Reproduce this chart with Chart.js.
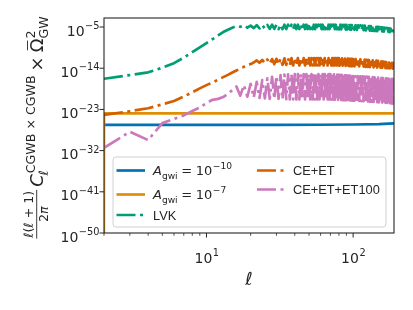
<!DOCTYPE html>
<html lang="en">
<head>
<meta charset="utf-8">
<title>CGWB x CGWB spectrum</title>
<script src="https://cdn.jsdelivr.net/npm/chart.js@4.4.0/dist/chart.umd.min.js"></script>
<style>
  body { margin: 0; background: #fff; }
  #chart { display: block; }
</style>
</head>
<body>
<canvas id="chart" width="413" height="310"></canvas>
<script>
// multipoles (ell): every ell up to 100, every other ell above
const ells = [2,3,4,5,6,7,8,9,10,11,12,13,14,15,16,17,18,19,20,21,22,23,24,25,26,27,28,29,30,31,32,33,34,35,36,37,38,39,40,
  41,42,43,44,45,46,47,48,49,50,51,52,53,54,55,56,57,58,59,60,61,62,63,64,65,66,67,68,69,70,
  71,72,73,74,75,76,77,78,79,80,81,82,83,84,85,86,87,88,89,90,91,92,93,94,95,96,97,98,99,100,
  102,104,106,108,110,112,114,116,118,120,122,124,126,128,130,132,134,136,138,140,142,144,146,148,150,
  152,154,156,158,160,162,164,166,168,170,172,174,176,178,180,182,184,186,188,190];

// log10 of l(l+1)/2pi C_l x Omega^2
const lvkLog = [-16.3,-15.5,-14.9,-13.9,-12.9,-11.7,-10.5,-9.45,-8.5,-7.65,-6.85,-6.1,-5.6,-5.15,
  -4.75,-4.95,-4.65,-5.15,-4.7,-5.25,-4.6,-5.3,-4.55,-5.35,-4.55,-5.4,-4.5,-5.4,-4.5,-5.45,-4.5,-5.45,-4.5,-5.45,-4.5,-5.45,-4.5,-5.45,-4.5,
  -5.45,-4.5,-5.45,-4.5,-5.45,-4.5,-5.45,-4.5,-5.45,-4.5,-5.45,-4.5,-5.45,-4.5,-5.45,-4.5,-5.45,-4.5,-5.45,-4.5,
  -5.45,-4.5,-5.45,-4.5,-5.45,-4.5,-5.45,-4.5,-5.45,-4.5,-5.45,-4.5,-5.45,-4.5,-5.45,-4.5,-5.45,-4.5,
  -5.5,-4.5,-5.5,-4.5,-5.5,-4.55,-5.5,-4.55,-5.5,-4.55,-5.55,-4.55,-5.55,-4.55,-5.55,-4.6,-5.55,-4.6,-5.6,-4.6,-5.6,-4.6,-5.6,-4.6,
  -5.65,-4.65,-5.65,-4.65,-5.7,-4.7,-5.7,-4.7,-5.75,-4.75,-5.75,-4.8,-5.8,-4.8,-5.8,-4.85,-5.85,-4.9,-5.85,-4.95,-5.9,-4.95,-5.9,-5.0,-5.95,
  -5.05,-5.95,-5.1,-6.0,-5.15,-6.0,-5.2,-6.05,-5.25,-6.05,-5.3,-6.1,-5.35,-6.1,-5.4,-6.15,-5.4,-6.2,-5.45,-6.25];

const ceEtLog = [-24.2,-23.4,-22.75,-21.9,-21.15,-20.2,-19.25,-18.4,-17.7,-17.1,-16.5,-15.95,-15.45,-14.95,-14.5,-14.1,-13.7,-13.35,-13.1,-12.75,
  -12.3,-12.8,-12.2,-12.9,-12.1,-13.0,-12.0,-13.1,-11.95,-13.2,-11.9,-13.25,-11.85,-13.3,-11.8,-13.35,-11.8,-13.4,-11.8,
  -13.4,-11.8,-13.4,-11.8,-13.4,-11.8,-13.4,-11.8,-13.4,-11.8,-13.4,-11.8,-13.4,-11.8,-13.4,-11.8,-13.4,-11.8,-13.4,-11.8,
  -13.4,-11.8,-13.4,-11.8,-13.4,-11.8,-13.4,-11.8,-13.4,-11.8,-13.4,-11.8,-13.4,-11.8,-13.4,-11.8,-13.4,-11.8,-13.4,-11.8,
  -13.45,-11.85,-13.45,-11.85,-13.45,-11.85,-13.5,-11.9,-13.5,-11.9,-13.5,-11.9,-13.5,-11.95,-13.55,-11.95,-13.55,-11.95,-13.55,-12.0,
  -13.6,-12.0,-13.6,-12.05,-13.6,-12.05,-13.65,-12.1,-13.65,-12.1,-13.7,-12.15,-13.7,-12.2,-13.75,-12.25,-13.75,-12.3,-13.8,-12.3,-13.8,-12.35,-13.85,-12.4,-13.85,
  -12.45,-13.9,-12.5,-13.9,-12.55,-13.95,-12.6,-13.95,-12.65,-14.0,-12.7,-14.0,-12.75,-14.05,-12.8,-14.05,-12.85,-14.1,-12.9,-14.1];

const ceEtEt100Log = [-31.4,-27.9,-29.7,-26.0,-25.1,-24.3,-23.35,-22.6,-21.6,-20.9,-20.7,-20.3,-19.6,-18.75,
  -18.0,-20.0,-17.7,-20.2,-17.4,-20.4,-17.0,-20.5,-16.6,-20.6,-16.2,-20.7,-15.9,-20.7,-15.7,-20.7,-15.5,-20.75,-15.4,-20.75,-15.35,-20.8,-15.3,-20.8,-15.3,
  -20.8,-15.3,-20.8,-15.3,-20.8,-15.3,-20.8,-15.3,-20.8,-15.3,-20.8,-15.3,-20.8,-15.3,-20.8,-15.3,-20.8,-15.3,-20.8,-15.3,
  -20.8,-15.3,-20.8,-15.3,-20.8,-15.3,-20.8,-15.3,-20.8,-15.3,
  -20.85,-15.35,-20.85,-15.35,-20.9,-15.4,-20.9,-15.4,-20.9,-15.45,-20.95,-15.45,-20.95,-15.5,-20.95,-15.5,-21.0,-15.55,-21.0,-15.55,
  -21.0,-15.6,-21.05,-15.6,-21.05,-15.65,-21.05,-15.65,-21.1,-15.7,
  -21.1,-15.75,-21.15,-15.75,-21.15,-15.8,-21.2,-15.8,-21.2,-15.85,-21.25,-15.85,-21.25,-15.9,-21.3,-15.9,-21.3,-15.95,-21.35,-16.0,-21.35,-16.0,-21.4,-16.05,-21.45,
  -16.1,-21.45,-16.1,-21.5,-16.15,-21.55,-16.2,-21.55,-16.2,-21.6,-16.25,-21.65,-16.3,-21.65,-16.3,-21.7,-16.35,-21.75,-16.4,-21.8];

const agwi10Ell = [2, 30, 60, 100, 150, 190];
const agwi10Log = [-26.4, -26.4, -26.35, -26.3, -26.2, -26.05];
const agwi7Ell = [1.995, 2, 190];
const agwi7Log = [-60, -23.85, -23.85];

// axis ticks
const yTickExp = [-50, -41, -32, -23, -14, -5];
const xMajor = [10, 100];
const xMajorExp = ['1', '2'];
const xMinor = [2,3,4,5,6,7,8,9,20,30,40,50,60,70,80,90];

const INK = '#262626';
const DASHDOT = [19, 4.5, 3, 4.5];
const LW = 2.7;

function pts(xs, logs) {
  return xs.map((x, i) => ({ x: x, y: Math.pow(10, logs[i]) }));
}

function w(ctx, text, font) { ctx.font = font; return ctx.measureText(text).width; }
function put(ctx, text, font, x, y) { ctx.font = font; ctx.fillText(text, x, y); return ctx.measureText(text).width; }

function drawPow(ctx, base, sup, x, baseline, align, size) {
  const fb = size + 'px "DejaVu Sans"';
  const fs = (size * 0.7).toFixed(1) + 'px "DejaVu Sans"';
  const wb = w(ctx, base, fb), ws = w(ctx, sup, fs);
  let x0 = x;
  if (align === 'right') x0 = x - wb - ws;
  if (align === 'center') x0 = x - (wb + ws) / 2;
  put(ctx, base, fb, x0, baseline);
  put(ctx, sup, fs, x0 + wb + 0.5, baseline - size * 0.45);
}

function drawYLabel(ctx, bx, yc) {
  const B = 18, S = 12.6;
  const rm = B + 'px "DejaVu Sans"', it = 'italic ' + B + 'px "DejaVu Sans"';
  const srm = S + 'px "DejaVu Sans"', sit = 'italic ' + S + 'px "DejaVu Sans"';
  const num = [['\u2113', sit], ['(', srm], ['\u2113', sit], [' + ', srm], ['1', srm], [')', srm]];
  const den = [['2', srm], ['\u03c0', sit]];
  const segW = s => s.reduce((t, p) => t + w(ctx, p[0], p[1]), 0);
  const numW = segW(num), denW = segW(den);
  const fracW = Math.max(numW, denW) + 2;
  const cW = w(ctx, 'C', it);
  const supTxt = 'CGWB \u00d7 CGWB';
  const cScr = Math.max(w(ctx, supTxt, srm) + 1, w(ctx, '\u2113', sit));
  const timesW = w(ctx, '\u00d7', rm) + B * 0.44;
  const omW = w(ctx, '\u03a9', rm);
  const omScr = Math.max(w(ctx, '2', srm), w(ctx, 'GW', srm));
  const gap = B * 0.17;
  const total = fracW + gap + cW + cScr + timesW + omW + omScr;

  ctx.save();
  ctx.translate(bx, yc);
  ctx.rotate(-Math.PI / 2);
  let u = -total / 2;
  // fraction
  let cu = u + (fracW - numW) / 2;
  num.forEach(p => { cu += put(ctx, p[0], p[1], cu, -10); });
  cu = u + (fracW - denW) / 2;
  den.forEach(p => { cu += put(ctx, p[0], p[1], cu, 4.8); });
  ctx.strokeStyle = INK; ctx.lineWidth = 0.9;
  ctx.beginPath(); ctx.moveTo(u, -6.3); ctx.lineTo(u + fracW, -6.3); ctx.stroke();
  u += fracW + gap;
  // C_l^{CGWB x CGWB}
  u += put(ctx, 'C', it, u, 0);
  put(ctx, supTxt, srm, u + 1, -8.5);
  put(ctx, '\u2113', sit, u - 1, 4.5);
  u += cScr;
  // times
  u += B * 0.22;
  u += put(ctx, '\u00d7', rm, u, 0);
  u += B * 0.22;
  // bar Omega ^2 _GW
  put(ctx, '\u03a9', rm, u, 0);
  ctx.beginPath(); ctx.moveTo(u + 2, -15.5); ctx.lineTo(u + omW - 2, -15.5); ctx.stroke();
  u += omW;
  put(ctx, '2', srm, u, -8.5);
  put(ctx, 'GW', srm, u, 4.5);
  ctx.restore();
}

function agwiText(ctx, x, y, exp) {
  const f = '13px "DejaVu Sans"', fi = 'italic 13px "DejaVu Sans"', fs = '9.1px "DejaVu Sans"';
  let cx = x;
  cx += put(ctx, 'A', fi, cx, y);
  cx += put(ctx, 'gwi', fs, cx, y + 3.5);
  cx += 3.6;
  cx += put(ctx, '=', f, cx, y);
  cx += 3.6;
  cx += put(ctx, '10', f, cx, y);
  put(ctx, '\u2212' + exp, fs, cx + 0.5, y - 6);
}

const frame = {
  id: 'frame',
  afterDraw(chart) {
    const ctx = chart.ctx, a = chart.chartArea;
    const xs = chart.scales.x, ys = chart.scales.y;
    ctx.save();
    ctx.fillStyle = INK;
    ctx.strokeStyle = INK;
    ctx.textAlign = 'left';
    ctx.textBaseline = 'alphabetic';

    // axes box
    ctx.lineWidth = 1.1;
    ctx.strokeRect(a.left, a.top, a.right - a.left, a.bottom - a.top);

    // y ticks and labels
    ctx.lineWidth = 1;
    yTickExp.forEach(e => {
      const py = ys.getPixelForValue(Math.pow(10, e));
      ctx.beginPath(); ctx.moveTo(a.left - 4.5, py); ctx.lineTo(a.left, py); ctx.stroke();
      drawPow(ctx, '10', '\u2212' + Math.abs(e), a.left - 5, py + 8.5, 'right', 14);
    });

    // x ticks and labels
    xMinor.forEach(v => {
      const px = xs.getPixelForValue(v);
      ctx.lineWidth = 0.8;
      ctx.beginPath(); ctx.moveTo(px, a.bottom); ctx.lineTo(px, a.bottom + 2.8); ctx.stroke();
    });
    xMajor.forEach((v, i) => {
      const px = xs.getPixelForValue(v);
      ctx.lineWidth = 1;
      ctx.beginPath(); ctx.moveTo(px, a.bottom); ctx.lineTo(px, a.bottom + 4.5); ctx.stroke();
      drawPow(ctx, '10', xMajorExp[i], px, 262.5, 'center', 14);
    });

    // axis labels
    ctx.font = 'italic 18px "DejaVu Sans"';
    ctx.textAlign = 'center';
    ctx.fillText('\u2113', (a.left + a.right) / 2, 285);
    ctx.textAlign = 'left';
    drawYLabel(ctx, 43, 127.5);

    // legend
    const lx = 113, ly = 157, lw = 273, lh = 70, r = 3;
    ctx.beginPath();
    ctx.moveTo(lx + r, ly);
    ctx.arcTo(lx + lw, ly, lx + lw, ly + lh, r);
    ctx.arcTo(lx + lw, ly + lh, lx, ly + lh, r);
    ctx.arcTo(lx, ly + lh, lx, ly, r);
    ctx.arcTo(lx, ly, lx + lw, ly, r);
    ctx.closePath();
    ctx.fillStyle = 'rgba(255,255,255,0.9)';
    ctx.fill();
    ctx.strokeStyle = '#d0d0d0';
    ctx.lineWidth = 1;
    ctx.stroke();

    const items = [
      { ds: 0, x: 116.5, y: 170.5, tx: 153, math: '10' },
      { ds: 1, x: 116.5, y: 194.5, tx: 153, math: '7' },
      { ds: 2, x: 116.5, y: 215, tx: 153, text: 'LVK' },
      { ds: 3, x: 257, y: 170.5, tx: 293, text: 'CE+ET' },
      { ds: 4, x: 257, y: 189.5, tx: 293, text: 'CE+ET+ET100' }
    ];
    items.forEach(it => {
      const d = chart.data.datasets[it.ds];
      ctx.strokeStyle = d.borderColor;
      ctx.lineWidth = LW;
      ctx.lineCap = 'butt';
      ctx.setLineDash(d.borderDash || []);
      ctx.beginPath(); ctx.moveTo(it.x, it.y); ctx.lineTo(it.x + 28.5, it.y); ctx.stroke();
      ctx.setLineDash([]);
      ctx.fillStyle = INK;
      if (it.math) agwiText(ctx, it.tx, it.y + 4.7, it.math);
      else put(ctx, it.text, '12.8px "Liberation Sans"', it.tx, it.y + 4.7);
    });
    ctx.restore();
  }
};

const line = (data, color, dash, order) => ({
  data: data,
  borderColor: color,
  borderWidth: LW,
  borderDash: dash,
  borderJoinStyle: 'round',
  pointRadius: 0,
  fill: false,
  order: order
});

new Chart(document.getElementById('chart'), {
  type: 'line',
  data: {
    datasets: [
      line(pts(agwi10Ell, agwi10Log), '#0173b2', undefined, 5),
      line(pts(agwi7Ell, agwi7Log), '#de8f05', undefined, 4),
      line(pts(ells, lvkLog), '#029e73', DASHDOT, 3),
      line(pts(ells, ceEtLog), '#d55e00', DASHDOT, 2),
      line(pts(ells, ceEtEt100Log), '#cc78bc', DASHDOT, 1)
    ]
  },
  options: {
    responsive: false,
    animation: false,
    layout: { padding: { left: 104, top: 18, right: 19, bottom: 77 } },
    scales: {
      x: { type: 'logarithmic', min: 2, max: 190, display: false },
      y: { type: 'logarithmic', min: 1e-50, max: Math.pow(10, -3.03), display: false }
    },
    plugins: { legend: { display: false }, tooltip: { enabled: false } }
  },
  plugins: [frame]
});
</script>
</body>
</html>
